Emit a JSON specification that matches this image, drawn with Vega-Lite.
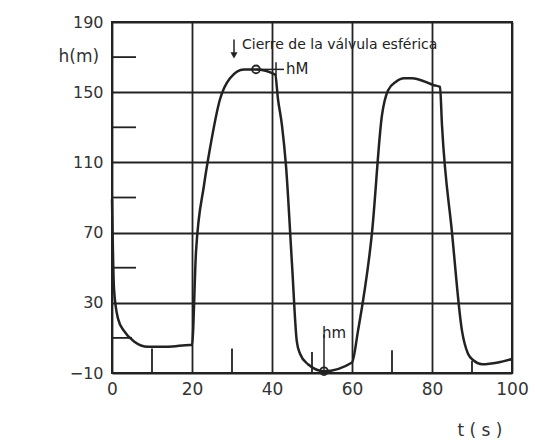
{
  "$schema": "https://vega.github.io/schema/vega-lite/v6.json",
  "width": 400,
  "height": 351,
  "autosize": "none",
  "padding": {"left": 112, "top": 22, "right": 23, "bottom": 71},
  "background": "white",
  "config": {
    "view": {"stroke": "#222", "strokeWidth": 2},
    "font": "DejaVu Sans"
  },
  "datasets": {
    "curve": [
      {"t": 0, "h": 89}, {"t": 0.5, "h": 38}, {"t": 1.5, "h": 21}, {"t": 3, "h": 14},
      {"t": 5.5, "h": 8}, {"t": 9, "h": 5}, {"t": 14, "h": 5}, {"t": 19.5, "h": 6},
      {"t": 20, "h": 6}, {"t": 21, "h": 59}, {"t": 23, "h": 97}, {"t": 24.5, "h": 118},
      {"t": 27, "h": 146}, {"t": 29.5, "h": 158}, {"t": 33, "h": 163}, {"t": 36, "h": 163},
      {"t": 40.8, "h": 160}, {"t": 41.5, "h": 146}, {"t": 42.5, "h": 131}, {"t": 43.5, "h": 108},
      {"t": 45, "h": 52}, {"t": 46.2, "h": 8}, {"t": 47, "h": 1}, {"t": 49, "h": -5}, {"t": 53, "h": -9},
      {"t": 60, "h": -4}, {"t": 61.5, "h": 14}, {"t": 65, "h": 70}, {"t": 67.5, "h": 137},
      {"t": 69, "h": 151}, {"t": 71, "h": 156}, {"t": 73, "h": 158}, {"t": 75, "h": 158}, {"t": 80.5, "h": 154},
      {"t": 82, "h": 153}, {"t": 82.5, "h": 131}, {"t": 85, "h": 70}, {"t": 87.5, "h": 14},
      {"t": 89, "h": 1}, {"t": 90.5, "h": -3}, {"t": 92.5, "h": -5}, {"t": 96.5, "h": -4}, {"t": 100, "h": -2}
    ],
    "minorTicks": [
      {"t": 0, "t2": 5, "h": 10, "h2": 10},
      {"t": 0, "t2": 6, "h": 50, "h2": 50},
      {"t": 0, "t2": 6, "h": 90, "h2": 90},
      {"t": 0, "t2": 6, "h": 130, "h2": 130},
      {"t": 0, "t2": 6, "h": 170, "h2": 170},
      {"t": 10, "t2": 10, "h": -10, "h2": 4},
      {"t": 30, "t2": 30, "h": -10, "h2": 4},
      {"t": 50, "t2": 50, "h": -10, "h2": 2},
      {"t": 70, "t2": 70, "h": -10, "h2": 3},
      {"t": 90, "t2": 90, "h": -10, "h2": -3}
    ],
    "leaders": [
      {"t": 36, "t2": 43, "h": 163, "h2": 163},
      {"t": 41, "t2": 41, "h": 159, "h2": 167},
      {"t": 53, "t2": 53, "h": -9, "h2": 12},
      {"t": 30.5, "t2": 30.5, "h": 172, "h2": 180}
    ],
    "markers": [{"t": 36, "h": 163}, {"t": 53, "h": -9}],
    "labels": [
      {"t": 32.5, "h": 177, "text": "Cierre de la válvula esférica", "size": 14},
      {"t": 43.5, "h": 163, "text": "hM", "size": 15},
      {"t": 52.5, "h": 13, "text": "hm", "size": 15}
    ]
  },
  "layer": [
    {
      "data": {"name": "curve"},
      "mark": {"type": "line", "color": "#222", "strokeWidth": 2.5, "interpolate": "monotone"},
      "encoding": {
        "x": {
          "field": "t", "type": "quantitative",
          "scale": {"domain": [0, 100], "nice": false},
          "axis": {
            "values": [0, 20, 40, 60, 80, 100],
            "grid": true, "gridColor": "#222", "gridWidth": 1.8, "gridOpacity": 1,
            "domain": false, "ticks": false,
            "labelFontSize": 17, "labelColor": "#333", "labelPadding": 8,
            "labelFlush": false,
            "title": "t ( s )", "titleFontSize": 17, "titleFontWeight": "normal",
            "titleColor": "#333", "titleX": 345, "titleY": 57, "titleAnchor": "start", "titleAlign": "left", "titleBaseline": "middle"
          }
        },
        "y": {
          "field": "h", "type": "quantitative",
          "scale": {"domain": [-10, 190], "nice": false},
          "axis": {
            "values": [-10, 30, 70, 110, 150, 190],
            "grid": true, "gridColor": "#222", "gridWidth": 1.8, "gridOpacity": 1,
            "domain": false, "ticks": false,
            "labelFontSize": 16, "labelColor": "#333", "labelPadding": 9,
            "labelFlush": false,
            "title": "h(m)", "titleAngle": 0, "titleFontSize": 17, "titleFontWeight": "normal",
            "titleColor": "#333", "titleX": -54, "titleY": 34, "titleAlign": "left", "titleBaseline": "middle"
          }
        }
      }
    },
    {
      "data": {"name": "minorTicks"},
      "mark": {"type": "rule", "color": "#222", "strokeWidth": 1.8},
      "encoding": {
        "x": {"field": "t", "type": "quantitative"},
        "x2": {"field": "t2"},
        "y": {"field": "h", "type": "quantitative"},
        "y2": {"field": "h2"}
      }
    },
    {
      "data": {"name": "leaders"},
      "mark": {"type": "rule", "color": "#222", "strokeWidth": 1.5},
      "encoding": {
        "x": {"field": "t", "type": "quantitative"},
        "x2": {"field": "t2"},
        "y": {"field": "h", "type": "quantitative"},
        "y2": {"field": "h2"}
      }
    },
    {
      "data": {"values": [{"t": 30.5, "h": 171}]},
      "mark": {"type": "point", "shape": "triangle-down", "filled": true, "color": "#222", "size": 50, "opacity": 1},
      "encoding": {
        "x": {"field": "t", "type": "quantitative"},
        "y": {"field": "h", "type": "quantitative"}
      }
    },
    {
      "data": {"name": "markers"},
      "mark": {"type": "point", "shape": "circle", "filled": false, "color": "#222", "strokeWidth": 1.8, "size": 60, "opacity": 1},
      "encoding": {
        "x": {"field": "t", "type": "quantitative"},
        "y": {"field": "h", "type": "quantitative"}
      }
    },
    {
      "data": {"name": "labels"},
      "mark": {"type": "text", "align": "left", "baseline": "middle", "color": "#222"},
      "encoding": {
        "x": {"field": "t", "type": "quantitative"},
        "y": {"field": "h", "type": "quantitative"},
        "text": {"field": "text"},
        "size": {"field": "size", "type": "quantitative", "scale": null, "legend": null}
      }
    }
  ]
}
